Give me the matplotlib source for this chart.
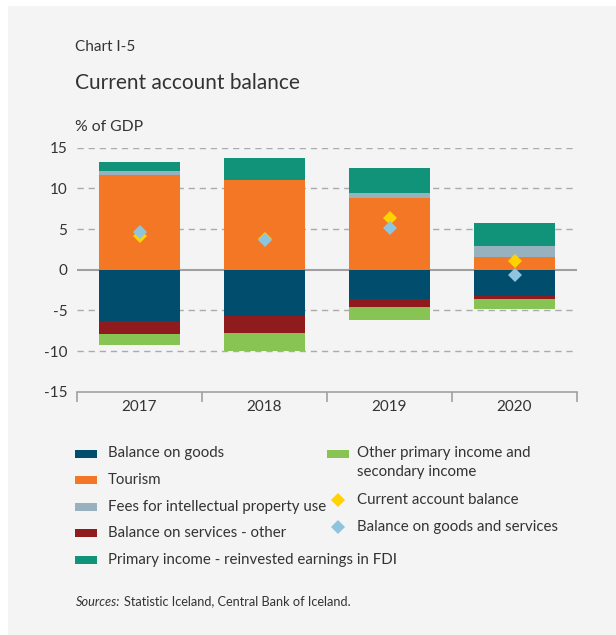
import matplotlib
matplotlib.use("Agg")
import matplotlib.pyplot as plt
import numpy as np
from matplotlib.patches import Rectangle
from matplotlib.lines import Line2D

plt.rcParams['font.family'] = ['Lato', 'DejaVu Sans']

# Data (% of GDP)
years = ['2017', '2018', '2019', '2020']
goods = [-6.3, -5.65, -3.6, -3.2]
tourism = [11.6, 11.05, 8.8, 1.55]
fees = [0.5, 0.0, 0.6, 1.35]
services_other = [-1.6, -2.15, -1.0, -0.4]
fdi_earnings = [1.1, 2.7, 3.1, 2.85]
other_income = [-1.35, -2.2, -1.6, -1.25]
current_account = [4.2, 3.8, 6.4, 1.1]
goods_services = [4.65, 3.65, 5.1, -0.7]
yticks = [-15, -10, -5, 0, 5, 10, 15]

c_goods = '#004d6e'
c_tourism = '#f47726'
c_fees = '#97b1be'
c_serv = '#8f1b1f'
c_fdi = '#11937a'
c_other = '#87c454'
c_ca = '#ffd200'
c_gs = '#8ec4de'
txt = '#333333'
bg = '#f4f4f4'
leg_fs = 10.8

fig = plt.figure(figsize=(6.16, 6.35), dpi=100, facecolor='white')
# grey panel
fig.patches.append(Rectangle((8 / 616, 0), 1, 1 - 6 / 635, transform=fig.transFigure,
                             facecolor=bg, edgecolor='none', zorder=-10))

ax = fig.add_axes([77 / 616, 1 - 391.7 / 635, 500 / 616, 244 / 635])
ax.set_facecolor(bg)
x = np.arange(len(years))
w = 0.65

# positive components stacked upward
pos_bottom = np.zeros(len(years))
for vals, col in [(tourism, c_tourism), (fees, c_fees), (fdi_earnings, c_fdi)]:
    v = np.array(vals)
    ax.bar(x, v, w, bottom=pos_bottom, color=col, zorder=3, linewidth=0)
    pos_bottom += v
# negative components stacked downward
neg_bottom = np.zeros(len(years))
for vals, col in [(goods, c_goods), (services_other, c_serv), (other_income, c_other)]:
    v = np.array(vals)
    ax.bar(x, v, w, bottom=neg_bottom, color=col, zorder=3, linewidth=0)
    neg_bottom += v

ax.plot(x, current_account, 'D', color=c_ca, ms=7, mew=0, zorder=5, linestyle='none')
ax.plot(x, goods_services, 'D', color=c_gs, ms=7, mew=0, zorder=6, linestyle='none')

ax.set_xlim(-0.5, len(years) - 0.5)
ax.set_ylim(-15, 15)
ax.set_yticks(yticks)
ax.set_yticklabels([str(t) for t in yticks])
for t in yticks:
    if t == 0:
        ax.axhline(0, color='#a0a0a0', lw=1.5, zorder=2)
    elif t != -15:
        ax.axhline(t, color='#ababab', lw=1.0, ls=(0, (4.5, 3.5)), zorder=1)

for s in ['top', 'right', 'left']:
    ax.spines[s].set_visible(False)
ax.spines['bottom'].set_color('#a0a0a0')
ax.spines['bottom'].set_linewidth(1.2)
ax.tick_params(axis='y', length=0, pad=7, labelsize=11, labelcolor=txt)
ax.set_xticks(x)
ax.set_xticklabels(years)
ax.tick_params(axis='x', length=0, pad=6, labelsize=11, labelcolor=txt)
ax.set_xticks(np.arange(-0.5, len(years), 1.0), minor=True)
ax.tick_params(axis='x', which='minor', length=7, width=1.2, color='#a0a0a0', direction='out')

# titles
fig.text(75 / 616, 1 - 47 / 635, 'Chart I-5', fontsize=11, color=txt, va='center', ha='left')
fig.text(75 / 616, 1 - 83 / 635, 'Current account balance', fontsize=15, color=txt,
         va='center', ha='left')
fig.text(75 / 616, 1 - 127 / 635, '% of GDP', fontsize=11.3, color=txt, va='center', ha='left')

# legend
def fy(py):
    return 1 - py / 635

def fx(px):
    return px / 616

left_items = [('Balance on goods', c_goods), ('Tourism', c_tourism),
              ('Fees for intellectual property use', c_fees),
              ('Balance on services - other', c_serv),
              ('Primary income - reinvested earnings in FDI', c_fdi)]
rows_left = [453.5, 480, 507, 533, 560]
for (lab, col), py in zip(left_items, rows_left):
    fig.patches.append(Rectangle((fx(75), fy(py + 4)), fx(22), 8 / 635, transform=fig.transFigure,
                                 facecolor=col, edgecolor='none'))
    fig.text(fx(108), fy(py), lab, fontsize=leg_fs, color=txt, va='center', ha='left')

fig.patches.append(Rectangle((fx(327), fy(453.5 + 4)), fx(21.5), 8 / 635, transform=fig.transFigure,
                             facecolor=c_other, edgecolor='none'))
fig.text(fx(357), fy(453.5), 'Other primary income and', fontsize=leg_fs, color=txt,
         va='center', ha='left')
fig.text(fx(357), fy(472), 'secondary income', fontsize=leg_fs, color=txt, va='center', ha='left')
for lab, col, py in [('Current account balance', c_ca, 499.5),
                     ('Balance on goods and services', c_gs, 526.5)]:
    fig.lines.append(Line2D([fx(338)], [fy(py)], marker='D', ms=7, mew=0, color=col,
                            transform=fig.transFigure, linestyle='none'))
    fig.text(fx(357), fy(py), lab, fontsize=leg_fs, color=txt, va='center', ha='left')

# source note
t1 = fig.text(fx(76), fy(601.5), 'Sources:', fontsize=9.2, style='italic', color=txt,
              va='center', ha='left')
fig.canvas.draw()
bb = t1.get_window_extent()
fig.text((bb.x1 + 4) / fig.bbox.width, fy(601.5), 'Statistic Iceland, Central Bank of Iceland.',
         fontsize=9.2, color=txt, va='center', ha='left')

fig.savefig('out.png', dpi=100, facecolor='white')
